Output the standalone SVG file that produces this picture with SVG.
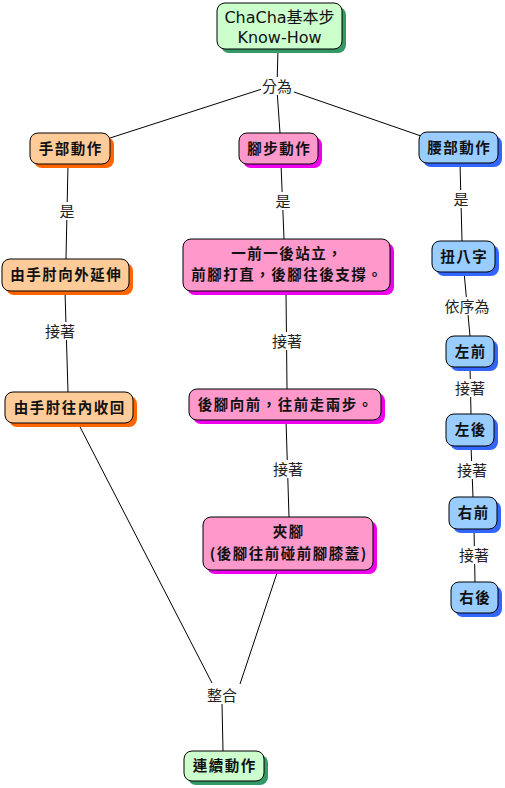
<svg xmlns="http://www.w3.org/2000/svg" width="505" height="788" viewBox="0 0 505 788" xml:lang="zh-Hant-TW" lang="zh-Hant-TW">
<style>
.n{stroke:#000;stroke-width:1}
.t{font-family:"Noto Sans CJK TC",sans-serif;font-size:14.5px;font-weight:bold;fill:#111;text-anchor:middle;letter-spacing:1.5px}
.r{font-family:"DejaVu Sans","Noto Sans CJK TC",sans-serif;font-size:16px;fill:#111;text-anchor:middle}
.l{font-family:"Noto Sans CJK TC",sans-serif;font-size:15px;fill:#222;text-anchor:middle}
.c line{stroke:#000;stroke-width:1}
.o{fill:#FFCC99}.os{fill:#FF6600}
.p{fill:#FF99CC}.ps{fill:#EE00EE}
.b{fill:#99CCFF}.bs{fill:#3366FF}
.g{fill:#CCFFCC}.gs{fill:#339966}
.lb{fill:#fff}
</style>
<rect width="505" height="788" fill="#fff"/>
<g id="connectors" class="c">
<line x1="278" y1="49" x2="277" y2="86"/>
<line x1="262" y1="89" x2="110" y2="138"/>
<line x1="277" y1="90" x2="280" y2="133"/>
<line x1="294" y1="92" x2="421" y2="136"/>
<line x1="68" y1="164" x2="66" y2="259"/>
<line x1="281" y1="164" x2="284" y2="239"/>
<line x1="460" y1="163" x2="462" y2="241"/>
<line x1="65" y1="291" x2="68" y2="392"/>
<line x1="286" y1="291" x2="287" y2="389"/>
<line x1="286" y1="420" x2="289" y2="517"/>
<line x1="464" y1="272" x2="470" y2="336"/>
<line x1="470" y1="367" x2="471" y2="414"/>
<line x1="471" y1="446" x2="473" y2="497"/>
<line x1="474" y1="529" x2="475" y2="582"/>
<line x1="78" y1="423" x2="212" y2="683"/>
<line x1="278" y1="570" x2="240" y2="684"/>
<line x1="222" y1="703" x2="223" y2="751"/>
</g>
<g id="labels">
<g id="lbl-fenwei"><rect class="lb" x="261" y="77" width="32" height="18"/><text class="l" x="277" y="91.5">分為</text></g>
<g id="lbl-shi1"><rect class="lb" x="59" y="202" width="16" height="18"/><text class="l" x="67" y="216.5">是</text></g>
<g id="lbl-shi2"><rect class="lb" x="275" y="192" width="16" height="18"/><text class="l" x="283" y="206.5">是</text></g>
<g id="lbl-shi3"><rect class="lb" x="453" y="190" width="16" height="18"/><text class="l" x="461" y="204.5">是</text></g>
<g id="lbl-j1"><rect class="lb" x="44" y="322" width="32" height="18"/><text class="l" x="60" y="336.5">接著</text></g>
<g id="lbl-j2"><rect class="lb" x="271" y="332" width="32" height="18"/><text class="l" x="287" y="346.5">接著</text></g>
<g id="lbl-j3"><rect class="lb" x="272" y="460" width="32" height="18"/><text class="l" x="288" y="474.5">接著</text></g>
<g id="lbl-yxw"><rect class="lb" x="443" y="297" width="48" height="18"/><text class="l" x="467" y="311.5">依序為</text></g>
<g id="lbl-j4"><rect class="lb" x="454" y="379" width="32" height="18"/><text class="l" x="470" y="393.5">接著</text></g>
<g id="lbl-j5"><rect class="lb" x="456" y="461" width="32" height="18"/><text class="l" x="472" y="475.5">接著</text></g>
<g id="lbl-j6"><rect class="lb" x="458" y="546" width="32" height="18"/><text class="l" x="474" y="560.5">接著</text></g>
<g id="lbl-zhenghe"><rect class="lb" x="206" y="686" width="32" height="18"/><text class="l" x="222" y="700.5">整合</text></g>
</g>
<g id="root"><rect class="gs" x="221" y="7" width="125" height="46" rx="8"/><rect class="g n" x="217" y="3" width="125" height="46" rx="8"/><text class="r" x="279.5" y="23">ChaCha基本步</text><text class="r" x="279.5" y="43">Know-How</text></g>
<g id="hand"><rect class="os" x="34" y="137" width="80" height="31" rx="8"/><rect class="o n" x="30" y="133" width="80" height="31" rx="8"/><text class="t" x="70.7" y="153.5">手部動作</text></g>
<g id="foot"><rect class="ps" x="243" y="137" width="79" height="31" rx="8"/><rect class="p n" x="239" y="133" width="79" height="31" rx="8"/><text class="t" x="279.2" y="153.5">腳步動作</text></g>
<g id="waist"><rect class="bs" x="423" y="136" width="79" height="31" rx="8"/><rect class="b n" x="419" y="132" width="79" height="31" rx="8"/><text class="t" x="459.2" y="152.5">腰部動作</text></g>
<g id="hand1"><rect class="os" x="6" y="263" width="127" height="32" rx="8"/><rect class="o n" x="2" y="259" width="127" height="32" rx="8"/><text class="t" x="66.2" y="280">由手肘向外延伸</text></g>
<g id="foot1" lang="zh-Hant-TW"><rect class="ps" x="187" y="243" width="207" height="52" rx="8"/><rect class="p n" x="183" y="239" width="207" height="52" rx="8"/><text class="t" lang="zh-Hant-TW" x="287.2" y="259">一前一後站立，</text><text class="t" lang="zh-Hant-TW" x="287.2" y="280">前腳打直，後腳往後支撐。</text></g>
<g id="waist1"><rect class="bs" x="436" y="245" width="63" height="31" rx="8"/><rect class="b n" x="432" y="241" width="63" height="31" rx="8"/><text class="t" x="464.2" y="261.5">扭八字</text></g>
<g id="hand2"><rect class="os" x="9" y="396" width="128" height="31" rx="8"/><rect class="o n" x="5" y="392" width="128" height="31" rx="8"/><text class="t" x="69.7" y="412.5">由手肘往內收回</text></g>
<g id="foot2" lang="zh-Hant-TW"><rect class="ps" x="193" y="393" width="192" height="31" rx="8"/><rect class="p n" x="189" y="389" width="192" height="31" rx="8"/><text class="t" lang="zh-Hant-TW" x="285.7" y="409.5">後腳向前，往前走兩步。</text></g>
<g id="lf"><rect class="bs" x="450" y="340" width="48" height="31" rx="8"/><rect class="b n" x="446" y="336" width="48" height="31" rx="8"/><text class="t" x="470.7" y="356.5">左前</text></g>
<g id="lb"><rect class="bs" x="450" y="418" width="48" height="32" rx="8"/><rect class="b n" x="446" y="414" width="48" height="32" rx="8"/><text class="t" x="470.7" y="435">左後</text></g>
<g id="rf"><rect class="bs" x="453" y="501" width="48" height="32" rx="8"/><rect class="b n" x="449" y="497" width="48" height="32" rx="8"/><text class="t" x="473.7" y="518">右前</text></g>
<g id="rb"><rect class="bs" x="455" y="586" width="47" height="31" rx="8"/><rect class="b n" x="451" y="582" width="47" height="31" rx="8"/><text class="t" x="475.2" y="602.5">右後</text></g>
<g id="foot3"><rect class="ps" x="207" y="521" width="170" height="53" rx="8"/><rect class="p n" x="203" y="517" width="170" height="53" rx="8"/><text class="t" x="288.7" y="537">夾腳</text><text class="t" x="288.7" y="559">(後腳往前碰前腳膝蓋)</text></g>
<g id="cont"><rect class="gs" x="188" y="755" width="80" height="30" rx="8"/><rect class="g n" x="184" y="751" width="80" height="30" rx="8"/><text class="t" x="224.7" y="771">連續動作</text></g>
</svg>
